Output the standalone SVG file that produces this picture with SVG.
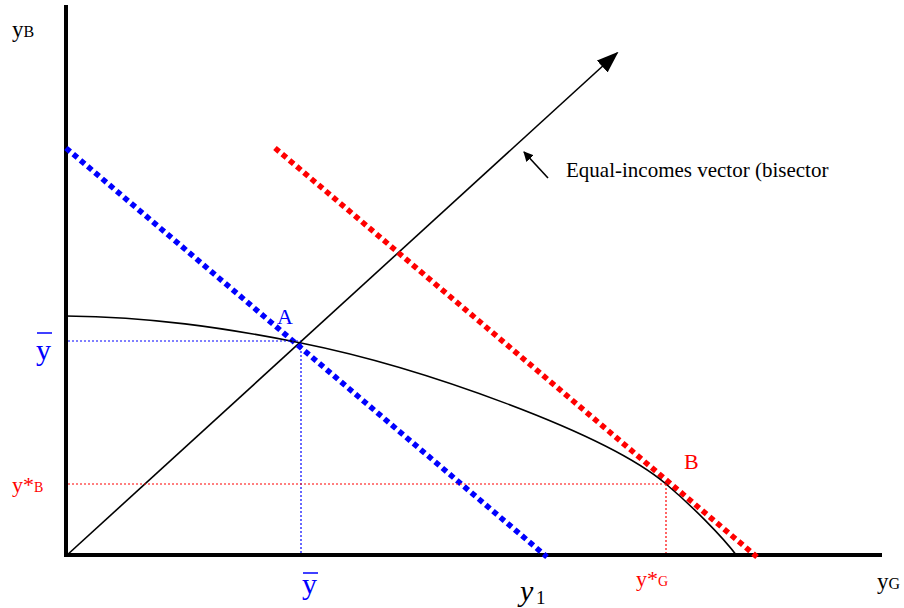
<svg xmlns="http://www.w3.org/2000/svg" width="904" height="608" viewBox="0 0 904 608">
<style>
text{font-family:"Liberation Serif","Times New Roman",serif}
.axis{stroke:#000;stroke-width:4;fill:none}
.thin{stroke:#000;stroke-width:1.6;fill:none}
.bigdot{stroke-width:5.5;stroke-dasharray:5.5 4;fill:none}
.guide{stroke-width:1.2;stroke-dasharray:2 2;fill:none}
.blue{fill:#0000ff}
.red{fill:#ff0000}
</style>
<defs>
<marker id="ah" markerWidth="10" markerHeight="10" refX="9" refY="5" orient="auto" markerUnits="userSpaceOnUse">
<path d="M0,0 L10,5 L0,10 z" fill="#000"/>
</marker>
<marker id="ahBig" markerWidth="22" markerHeight="16" refX="20" refY="8" orient="auto" markerUnits="userSpaceOnUse">
<path d="M0,0 L22,8 L0,16 z" fill="#000"/>
</marker>
</defs>
<g id="axes">
<line class="axis" x1="66" y1="5" x2="66" y2="557"/>
<line class="axis" x1="64" y1="555" x2="882" y2="555"/>
</g>
<g id="connectors">
<line class="thin" x1="66" y1="556" x2="617" y2="53" marker-end="url(#ahBig)"/>
<line class="thin" x1="548" y1="178" x2="524" y2="152" stroke-width="2" marker-end="url(#ah)"/>
<line class="bigdot" stroke="#0000ff" x1="66" y1="148" x2="547" y2="557"/>
<line class="bigdot" stroke="#ff0000" x1="275" y1="148" x2="757" y2="557"/>
<path class="thin" d="M66,316 C150,317 221,327 301,343 C421,367 606,433 666,484 C691,505 722,536 737,556"/>
<line class="guide" stroke="#0000ff" x1="68" y1="341" x2="301" y2="341"/>
<line class="guide" stroke="#0000ff" x1="301" y1="343" x2="301" y2="553"/>
<line class="guide" stroke="#ff0000" x1="68" y1="484" x2="666" y2="484"/>
<line class="guide" stroke="#ff0000" x1="666" y1="484" x2="666" y2="553"/>
</g>
<g id="label-yB">
<text x="12" y="37" font-size="23">y<tspan font-size="16">B</tspan></text>
</g>
<g id="label-ybar-left">
<text class="blue" x="36" y="360" font-size="30">y</text>
<line x1="37" y1="333" x2="52" y2="333" stroke="#0000ff" stroke-width="1.5"/>
</g>
<g id="label-ystarB">
<text class="red" x="12" y="492" font-size="22">y*<tspan font-size="14">B</tspan></text>
</g>
<g id="label-ybar-bottom">
<text class="blue" x="302" y="594" font-size="30">y</text>
<line x1="303" y1="573" x2="318" y2="573" stroke="#0000ff" stroke-width="1.5"/>
</g>
<g id="label-y1">
<text x="520" y="601" font-size="30" font-style="italic">y</text>
<text x="536" y="604" font-size="19">1</text>
</g>
<g id="label-ystarG">
<text class="red" x="636" y="586" font-size="22">y*<tspan font-size="14">G</tspan></text>
</g>
<g id="label-yG">
<text x="877" y="589" font-size="23">y<tspan font-size="16">G</tspan></text>
</g>
<g id="label-bisector">
<text x="566" y="177" font-size="21">Equal-incomes vector (bisector</text>
</g>
<g id="point-A">
<text class="blue" x="277" y="324" font-size="22">A</text>
</g>
<g id="point-B">
<text class="red" x="684" y="469" font-size="22">B</text>
</g>
</svg>
